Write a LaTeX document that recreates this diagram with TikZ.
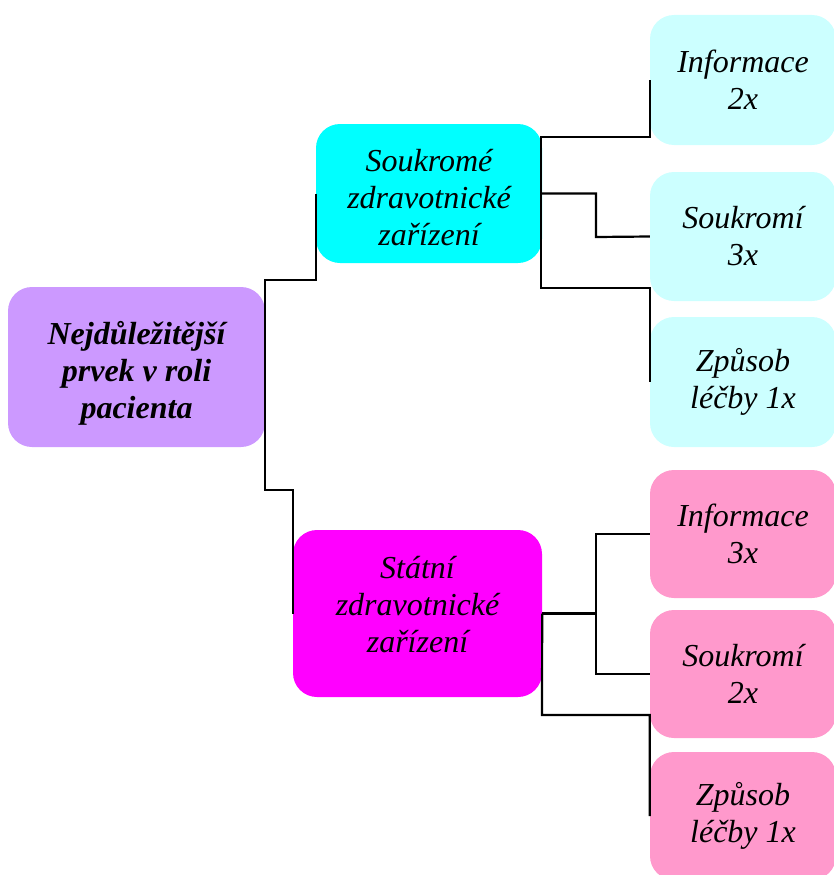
\documentclass[tikz,border=0pt]{standalone}
\usepackage{fontspec}
\setmainfont{Liberation Serif}
\definecolor{rootfill}{HTML}{CC99FF}
\definecolor{privfill}{HTML}{00FFFF}
\definecolor{statefill}{HTML}{FF00FF}
\definecolor{privleaf}{HTML}{CCFFFF}
\definecolor{stateleaf}{HTML}{FF99CC}
\begin{document}
\begin{tikzpicture}[x=1pt,y=-1pt,
  box/.style={rounded corners=24pt, inner sep=0pt},
  txt/.style={inner sep=0pt, align=center,
    font=\fontsize{32}{37}\selectfont\itshape},
  leaf/.style={box, txt, minimum width=186pt, minimum height=129pt},
  link/.style={draw=black, line width=2.2pt}]
\useasboundingbox (0,0) rectangle (834,875);
\clip (0,0) rectangle (834,875);

% root
\node[box, fill=rootfill, minimum width=257pt, minimum height=160pt]
  (root) at (136.5,367) {};
\node[txt, font=\fontsize{32}{37}\selectfont\bfseries\itshape]
  (roottext) at (136.5,373) {Nejdůležitější\\prvek v roli\\pacienta};

% second level
\node[box, fill=privfill, minimum width=226pt, minimum height=139pt]
  (sk) at (429,193.5) {};
\node[txt] (sktext) at (429,197.5) {Soukromé\\zdravotnické\\zařízení};
\node[box, fill=statefill, minimum width=249pt, minimum height=167pt]
  (st) at (417.5,613.5) {};
\node[txt] (sttext) at (417.5,605) {Státní\\zdravotnické\\zařízení};

% leaves of the private branch
\node[leaf, fill=privleaf, minimum height=130pt] (i1) at (743,80) {Informace\\2x};
\node[leaf, fill=privleaf] (s1) at (743,236.5) {Soukromí\\3x};
\node[leaf, fill=privleaf, minimum height=130pt] (z1) at (743,382) {Způsob\\léčby 1x};

% leaves of the state branch
\node[leaf, fill=stateleaf, minimum height=128pt] (i2) at (743,534) {Informace\\3x};
\node[leaf, fill=stateleaf, minimum height=128pt] (s2) at (743,674) {Soukromí\\2x};
\node[leaf, fill=stateleaf, minimum height=128pt] (z2) at (743,816) {Způsob\\léčby 1x};

% elbow points
\coordinate (ra) at (265,280);
\coordinate (rb) at (265,490);
\coordinate (pa) at (541,137);
\coordinate (pb) at (541,288);
\coordinate (pm) at (596,237);
\coordinate (sa) at (596,534);
\coordinate (sb) at (596,674);
\coordinate (sc) at (542,715);

% root to second level
\draw[link] (sk.west) |- (ra) -- (rb) -| (st.west);

% private branch
\draw[link] (i1.west) |- (pa) -- (pb) -| (z1.west);
\draw[link] (sk.east) -| (pm) -- (s1.west);

% state branch
\draw[link] (i2.west) -- (sa) -- (sb) -- (s2.west);
\draw[link] (st.east) -- (st.east -| sa);
\draw[link] (st.east) -- (sc) -| (z2.west);
\end{tikzpicture}
\end{document}
